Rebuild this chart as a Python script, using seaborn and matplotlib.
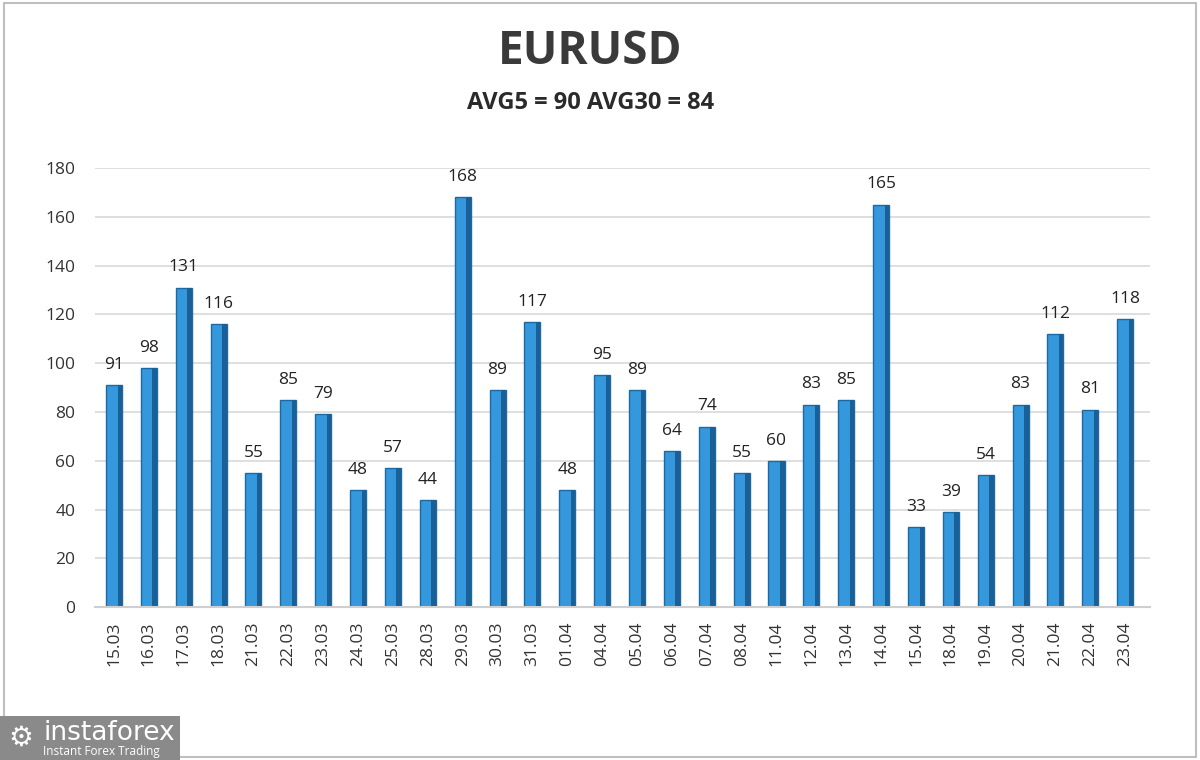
import matplotlib
matplotlib.use("Agg")
import matplotlib.pyplot as plt
import pandas as pd
import seaborn as sns
from matplotlib.patches import Rectangle

dates = ["15.03", "16.03", "17.03", "18.03", "21.03", "22.03", "23.03", "24.03",
         "25.03", "28.03", "29.03", "30.03", "31.03", "01.04", "04.04", "05.04",
         "06.04", "07.04", "08.04", "11.04", "12.04", "13.04", "14.04", "15.04",
         "18.04", "19.04", "20.04", "21.04", "22.04", "23.04"]
values = [91, 98, 131, 116, 55, 85, 79, 48, 57, 44, 168, 89, 117, 48, 95, 89,
          64, 74, 55, 60, 83, 85, 165, 33, 39, 54, 83, 112, 81, 118]
yticks = list(range(0, 181, 20))

df = pd.DataFrame({"date": dates, "value": values})

sns.set_theme(style="white")
plt.rcParams["font.family"] = ["Open Sans", "DejaVu Sans"]

fig = plt.figure(figsize=(12, 7.6), dpi=100)
ax = fig.add_axes([0.079, 0.201, 0.879, 0.578])

ax.yaxis.grid(True, color="#d9d9d9", linewidth=1.2)
ax.set_axisbelow(True)

sns.barplot(data=df, x="date", y="value", order=dates, color="#3598dc",
            width=0.46, edgecolor="#1d6aa3", linewidth=1.0, saturation=1, ax=ax)

# darker right side for the faux 3D look of the original
for bar in list(ax.patches):
    w = bar.get_width() * 0.28
    ax.add_patch(Rectangle((bar.get_x() + bar.get_width() - w, 0), w, bar.get_height(),
                           facecolor="#1a5f95", edgecolor="none", zorder=bar.get_zorder() + 0.1))

for i, v in enumerate(values):
    ax.text(i, v + 5, str(v), ha="center", va="bottom", fontsize=12.5, color="#222222")

ax.set_ylim(0, 180)
ax.set_yticks(yticks)
ax.set_xlim(-0.55, len(dates) - 0.3)
ax.set_xlabel("")
ax.set_ylabel("")
ax.tick_params(axis="x", rotation=90, labelsize=12.5, colors="#333333", length=0, pad=10)
ax.tick_params(axis="y", labelsize=12.5, colors="#333333", length=0, pad=14)
for side in ["top", "right", "left"]:
    ax.spines[side].set_visible(False)
ax.spines["bottom"].set_color("#cfcfcf")
ax.spines["bottom"].set_linewidth(1.5)

fig.text(0.492, 0.932, "EURUSD", ha="center", va="center", fontsize=33,
         fontweight="bold", color="#3a3a3a")
fig.text(0.492, 0.864, "AVG5 = 90 AVG30 = 84", ha="center", va="center",
         fontsize=17, fontweight="bold", color="#2a2a2a")

# outer frame
fig.patches.append(Rectangle((0.003, 0.004), 0.994, 0.992, transform=fig.transFigure,
                             fill=False, edgecolor="#bfbfbf", linewidth=1.5))

# logo box
fig.patches.append(Rectangle((0.0, 0.0), 0.15, 0.058, transform=fig.transFigure,
                             facecolor="#8a8a8a", edgecolor="none"))
fig.text(0.036, 0.035, "instaforex", ha="left", va="center", fontsize=19,
         color="white", family=["DejaVu Sans"])
fig.text(0.036, 0.011, "Instant Forex Trading", ha="left", va="center", fontsize=8.5,
         color="white")
fig.text(0.017, 0.03, "\u2699", ha="center", va="center", fontsize=20, color="white",
         family=["DejaVu Sans"])

fig.savefig("out.png", dpi=100)
